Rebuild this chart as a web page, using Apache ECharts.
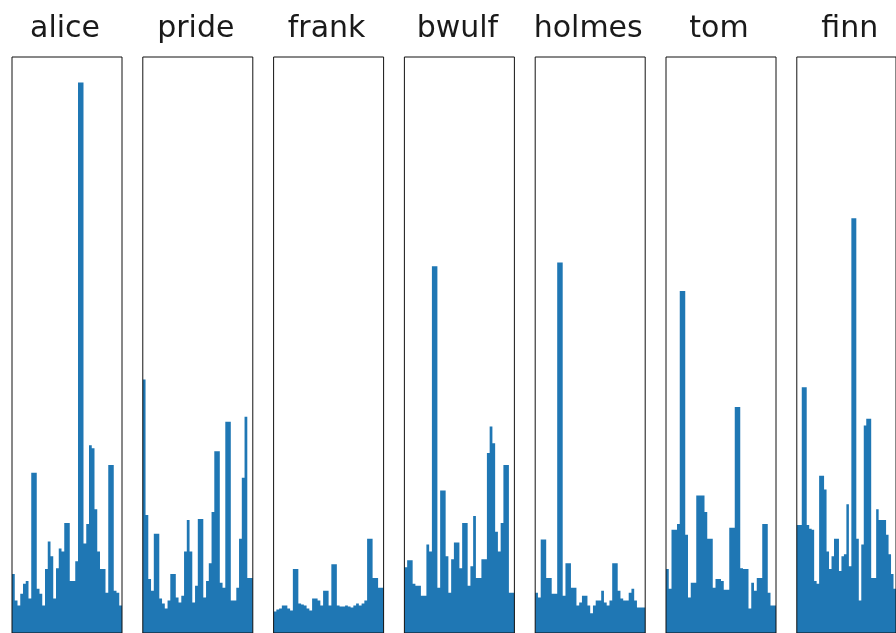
<!DOCTYPE html>
<html>
<head>
<meta charset="utf-8">
<script src="https://cdn.jsdelivr.net/npm/echarts@6/dist/echarts.min.js"></script>
<style>
html,body{margin:0;padding:0;background:#fff;}
#chart{width:896px;height:633px;}
</style>
</head>
<body>
<div id="chart"></div>
<script>
// Panel titles
const titles = ["alice", "pride", "frank", "bwulf", "holmes", "tom", "finn"];
// Bin categories (shared x axis of each panel)
const bins = ["1","2","3","4","5","6","7","8","9","10","11","12","13","14","15","16","17","18","19","20",
              "21","22","23","24","25","26","27","28","29","30","31","32","33","34","35","36","37","38","39","40"];
// Values per panel (arbitrary height units, shared scale)
const alice  = [60,33,28,40,50,53,35,163,163,45,40,28,65,93,78,35,66,86,83,112,112,53,53,73,560,560,91,111,191,188,126,83,65,65,41,171,171,43,41,28];
const pride  = [258,120,55,43,101,101,35,30,25,33,60,60,36,31,38,83,115,83,31,48,116,116,36,53,71,123,185,185,51,46,215,215,33,33,46,96,158,220,56,56];
const frank  = [22,24,25,28,28,25,23,65,65,30,29,28,25,23,35,35,33,28,43,43,28,70,70,28,27,27,28,27,26,28,30,28,30,33,96,96,56,56,46,46];
const bwulf  = [67,74,74,50,48,48,38,38,90,83,373,373,46,145,145,78,41,75,92,92,66,112,112,48,68,119,56,56,75,75,183,210,193,103,83,112,171,171,41,41];
const holmes = [41,36,95,95,56,56,40,40,377,377,38,71,71,46,46,28,31,38,38,28,20,28,33,33,43,31,28,33,71,71,43,35,33,33,41,45,33,26,26,26];
const tom    = [65,45,105,105,111,348,348,100,36,51,51,140,140,140,123,96,96,46,55,55,53,44,44,107,107,230,230,66,65,65,25,51,43,56,56,111,111,41,28,28];
const finn   = [110,110,250,250,110,106,105,53,50,160,160,146,83,65,78,96,96,63,78,80,131,68,422,422,96,33,90,211,218,218,56,56,126,115,115,115,100,80,60,45];
const panels = [alice, pride, frank, bwulf, holmes, tom, finn];
const yMax = 586;

(function () {
  const chart = echarts.init(document.getElementById('chart'), null, {renderer: 'canvas'});
  const step = 130.8, left0 = 12, pw = 110, gTop = 57, ph = 586;
  const grid = [], xAxis = [], yAxis = [], series = [], title = [];
  panels.forEach((vals, i) => {
    const l = left0 + step * i;
    grid.push({left: l, top: gTop, width: pw, height: ph, show: true, z: 10, borderColor: '#111', borderWidth: 1, backgroundColor: 'transparent', containLabel: false});
    xAxis.push({type: 'category', gridIndex: i, data: bins, boundaryGap: true,
      axisLine: {show: false}, axisTick: {show: false}, axisLabel: {show: false}, splitLine: {show: false}});
    yAxis.push({type: 'value', gridIndex: i, min: 0, max: yMax,
      axisLine: {show: false}, axisTick: {show: false}, axisLabel: {show: false}, splitLine: {show: false}});
    series.push({type: 'bar', xAxisIndex: i, yAxisIndex: i, data: vals, barCategoryGap: '0%', barGap: '0%',
      large: true, largeThreshold: 1,
      itemStyle: {color: '#1f77b4'}, silent: true, animation: false});
    title.push({text: titles[i], left: l + pw / 2 - 2, top: 14, padding: 0, textAlign: 'center',
      textStyle: {fontFamily: 'DejaVu Sans', fontSize: 30, fontWeight: 'normal', color: '#1a1a1a'}});
  });
  chart.setOption({animation: false, title, grid, xAxis, yAxis, series});
})();
</script>
</body>
</html>
